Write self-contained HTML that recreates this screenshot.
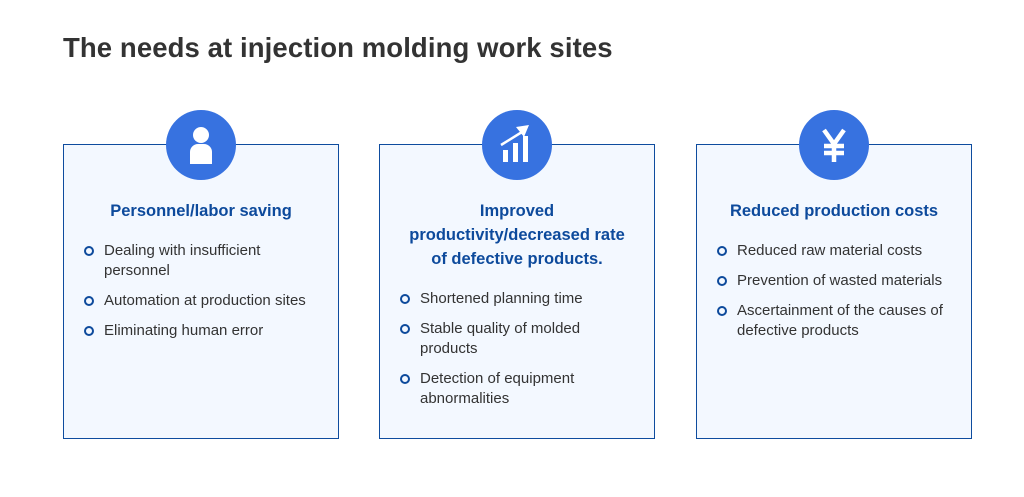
<!DOCTYPE html>
<html><head><style>
body{margin:0;width:1024px;height:497px;background:#fff;font-family:"Liberation Sans",sans-serif;position:relative;overflow:hidden}
h1{position:absolute;left:63px;top:32px;margin:0;font-size:27.5px;font-weight:bold;color:#333;letter-spacing:0.1px}
.box{position:absolute;top:144px;width:274px;height:293px;border:1px solid #0e4c9e;background:#f3f8ff}
.c{position:absolute;top:110px;width:70px;height:70px;border-radius:50%;background:#3772e0}
.t{position:absolute;left:0;width:274px;text-align:center;top:54px;font-size:16.5px;font-weight:bold;color:#0d4a9c;line-height:24px}
ul{position:absolute;left:20px;margin:0;padding:0;list-style:none;width:235px}
li{position:relative;padding-left:20px;font-size:15px;line-height:20px;color:#333;margin-bottom:10px}
li:before{content:"";position:absolute;left:0;top:5px;width:6px;height:6px;border:2px solid #0d4a9c;border-radius:50%}
</style></head><body>
<h1>The needs at injection molding work sites</h1>
<div class="box" style="left:63px"><div class="t">Personnel/labor saving</div>
<ul style="top:96px"><li>Dealing with insufficient personnel</li><li>Automation at production sites</li><li>Eliminating human error</li></ul></div>
<div class="box" style="left:379px"><div class="t">Improved<br>productivity/decreased rate<br>of defective products.</div>
<ul style="top:144px"><li>Shortened planning time</li><li>Stable quality of molded products</li><li>Detection of equipment abnormalities</li></ul></div>
<div class="box" style="left:696px"><div class="t">Reduced production costs</div>
<ul style="top:96px"><li>Reduced raw material costs</li><li>Prevention of wasted materials</li><li>Ascertainment of the causes of defective products</li></ul></div>
<div class="c" style="left:166px"><svg width="70" height="70"><circle cx="35" cy="25" r="8" fill="#fff"/><path d="M24 54V42a8 8 0 0 1 8-8h6a8 8 0 0 1 8 8v12z" fill="#fff"/></svg></div>
<div class="c" style="left:482px"><svg width="70" height="70"><rect x="21" y="40" width="5" height="12" fill="#fff"/><rect x="31" y="33" width="5" height="19" fill="#fff"/><rect x="41" y="26" width="5" height="26" fill="#fff"/><path d="M19 35L40 22" stroke="#fff" stroke-width="2.5"/><path d="M34 17L47 15L42 27z" fill="#fff"/></svg></div>
<div class="c" style="left:799px"><svg width="70" height="70"><path d="M25 20L35 34L45 20M35 34V52M25 36H45M25 43H45" stroke="#fff" stroke-width="4.5" fill="none"/></svg></div>
</body></html>
